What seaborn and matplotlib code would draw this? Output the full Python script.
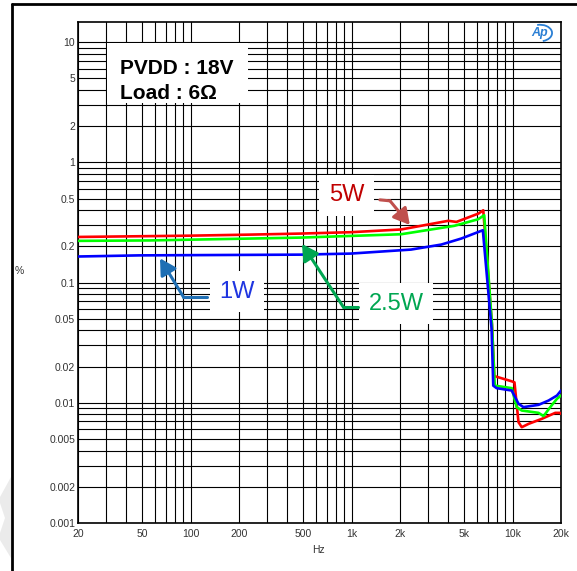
import numpy as np
import pandas as pd
import matplotlib
matplotlib.use("Agg")
import matplotlib.pyplot as plt
import seaborn as sns
from matplotlib.patches import Rectangle, Polygon, Arc
from matplotlib.lines import Line2D

# THD+N (%) vs frequency (Hz)
freq_5w = [20, 100, 234, 480, 1000, 2030, 3990, 4480, 6150, 6580, 7450, 7700,
           9890, 10280, 10890, 11410, 12570, 15210, 18420, 19700, 20000]
thd_5w = [0.240, 0.246, 0.251, 0.256, 0.263, 0.277, 0.327, 0.320, 0.376, 0.400, 0.045, 0.0167,
          0.0151, 0.0148, 0.0069, 0.00627, 0.00668, 0.00736, 0.00825, 0.00825, 0.0081]

freq_25w = [20, 56, 481, 2030, 4350, 6120, 6670, 7450, 7760,
            9890, 10610, 11410, 14510, 15580, 17150, 18880, 20000]
thd_25w = [0.2226, 0.2245, 0.237, 0.2527, 0.297, 0.337, 0.364, 0.045, 0.0139,
           0.01325, 0.00921, 0.00863, 0.00825, 0.00775, 0.00921, 0.0108, 0.0115]

freq_1w = [20, 48, 481, 988, 2340, 3610, 4810, 6540, 7410, 7590,
           7960, 9890, 10890, 11690, 14510, 16750, 18880, 20000]
thd_1w = [0.165, 0.1686, 0.171, 0.1745, 0.1884, 0.2074, 0.2329, 0.2729, 0.0414, 0.0139,
          0.01325, 0.01265, 0.00982, 0.00921, 0.00962, 0.01045, 0.0115, 0.01265]

series_names = ["5W", "2.5W", "1W"]
line_colors = ["#ff0000", "#00ff00", "#0000ff"]

x_major = [20, 50, 100, 200, 500, 1000, 2000, 5000, 10000, 20000]
x_major_labels = ["20", "50", "100", "200", "500", "1k", "2k", "5k", "10k", "20k"]
y_major = [0.001, 0.002, 0.005, 0.01, 0.02, 0.05, 0.1, 0.2, 0.5, 1, 2, 5, 10]
y_major_labels = ["0.001", "0.002", "0.005", "0.01", "0.02", "0.05", "0.1", "0.2", "0.5", "1", "2", "5", "10"]

df = pd.concat([
    pd.DataFrame({"freq": freq_5w, "thd": thd_5w, "power": "5W"}),
    pd.DataFrame({"freq": freq_25w, "thd": thd_25w, "power": "2.5W"}),
    pd.DataFrame({"freq": freq_1w, "thd": thd_1w, "power": "1W"}),
])

sns.set_theme(style="white")
plt.rcParams["font.family"] = ["Liberation Sans", "DejaVu Sans"]

W, H = 577, 571
fig = plt.figure(figsize=(W / 100, H / 100), dpi=100)
ax = fig.add_axes([78 / W, 1 - 523 / H, 483 / W, 501 / H])

sns.lineplot(data=df, x="freq", y="thd", hue="power", hue_order=series_names,
             palette=line_colors, sort=False, estimator=None, legend=False,
             linewidth=1.9, ax=ax, zorder=5)

ax.set_xscale("log")
ax.set_yscale("log")
ax.set_xlim(20, 20000)
ax.set_ylim(0.001, 14.75)

# grid at every 1..9 step of each decade
x_minor = [m * 10 ** d for d in range(1, 5) for m in range(1, 10) if 20 <= m * 10 ** d <= 20000]
y_minor = [m * 10.0 ** d for d in range(-3, 2) for m in range(1, 10) if 0.001 <= m * 10.0 ** d <= 10]
ax.set_xticks(x_minor, minor=True)
ax.set_yticks(y_minor, minor=True)
ax.set_xticks(x_major, x_major_labels)
ax.set_yticks(y_major, y_major_labels)
ax.xaxis.set_minor_formatter(matplotlib.ticker.NullFormatter())
ax.yaxis.set_minor_formatter(matplotlib.ticker.NullFormatter())
ax.tick_params(which="both", length=0, labelsize=7.5, colors="#333333")
ax.tick_params(axis="x", pad=4)
ax.tick_params(axis="y", pad=2)
ax.grid(which="both", color="black", linewidth=0.8, zorder=1)
ax.set_axisbelow(True)
for s in ax.spines.values():
    s.set_color("black")
    s.set_linewidth(1.2)
ax.set_xlabel("")
ax.set_ylabel("")

fig.text(19 / W, 1 - 271 / H, "%", fontsize=7.5, color="#333333", ha="center", va="center")
fig.text(318 / W, 1 - 550 / H, "Hz", fontsize=7.5, color="#333333", ha="center", va="center")

# condition box
ax.add_patch(Rectangle((0.060, 0.838), 0.292, 0.121, transform=ax.transAxes,
                       facecolor="white", edgecolor="none", zorder=3))
ax.text(0.087, 0.908, "PVDD : 18V", transform=ax.transAxes, fontsize=15,
        fontweight="bold", color="black", ha="left", va="center", zorder=4)
ax.text(0.087, 0.858, "Load : 6Ω", transform=ax.transAxes, fontsize=15,
        fontweight="bold", color="black", ha="left", va="center", zorder=4)

# callout labels with arrows
callouts = [
    ("5W", (0.556, 0.654), "#c00000", "#c0504d", (0.625, 0.645), (0.646, 0.643), (0.687, 0.595)),
    ("1W", (0.329, 0.462), "#1f35e0", "#1f6fb4", (0.2665, 0.4517), (0.218, 0.4517), (0.1698, 0.5283)),
    ("2.5W", (0.659, 0.438), "#00a651", "#00a651", (0.580, 0.4317), (0.549, 0.4317), (0.4638, 0.5569)),
]
for label, pos, tcol, acol, start, corner, tip in callouts:
    ax.text(pos[0], pos[1], label, transform=ax.transAxes, fontsize=17, color=tcol,
            ha="center", va="center", zorder=6,
            bbox=dict(boxstyle="square,pad=0.4", facecolor="white", edgecolor="none"))
    ax.plot([start[0], corner[0]], [start[1], corner[1]], transform=ax.transAxes,
            color=acol, linewidth=2.2, solid_capstyle="round", zorder=7)
    ax.annotate("", xy=tip, xytext=corner, xycoords="axes fraction", textcoords="axes fraction",
                arrowprops=dict(arrowstyle="-|>,head_length=0.8,head_width=0.45", color=acol,
                                lw=2.2, shrinkA=0, shrinkB=0, mutation_scale=12), zorder=7)

# AP logo
ax.text(0.9565, 0.978, "Ap", transform=ax.transAxes, fontsize=9, fontstyle="italic",
        fontweight="bold", color="#2a7fd4", ha="center", va="center", zorder=6)
ax.add_patch(Arc((0.9565, 0.978), 0.05, 0.033, theta1=-70, theta2=110, transform=ax.transAxes,
                 color="#2a7fd4", linewidth=1.3, zorder=6))

# page border and watermark corner
fig.add_artist(Line2D([12 / W, 12 / W], [0, 1 - 4 / H], color="black", linewidth=2))
fig.add_artist(Line2D([12 / W, 1], [1 - 4 / H, 1 - 4 / H], color="black", linewidth=2))
wm = [(11, 477), (0, 497), (0, 503), (5, 518), (0, 533), (0, 540), (11, 558)]
fig.add_artist(Polygon([(x / W, 1 - y / H) for x, y in wm], closed=True,
                       facecolor="#ebebeb", edgecolor="none", transform=fig.transFigure))

fig.savefig("out.png", dpi=100)
